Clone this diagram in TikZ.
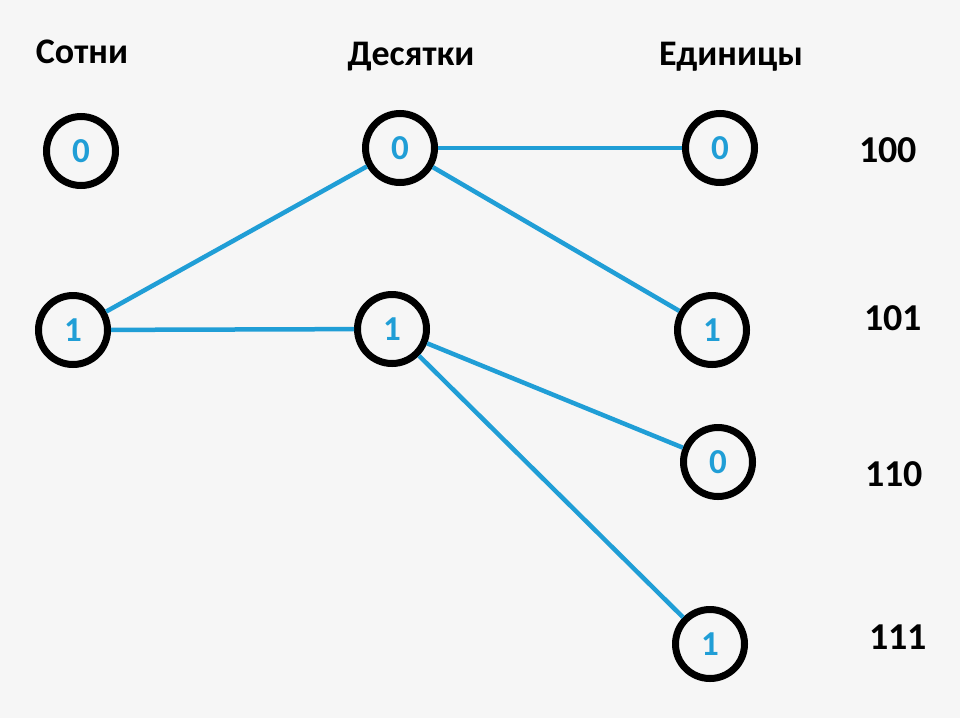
\documentclass[tikz,border=0pt]{standalone}
\usepackage{fontspec}
\setmainfont{Carlito}
\usepackage{tikz}
\definecolor{lineblue}{RGB}{32,158,214}
\definecolor{bggray}{RGB}{246,246,246}

\begin{document}
\begin{tikzpicture}[x=1pt, y=-1pt,
  every node/.style={font=\bfseries},
  digit/.style={draw, circle, line width=7pt, minimum size=69pt, inner sep=0pt, text=lineblue, font=\bfseries\fontsize{35}{35}\selectfont},
  head/.style={font=\bfseries\fontsize{36}{36}\selectfont},
  code/.style={font=\bfseries\fontsize{38}{38}\selectfont},
  edge/.style={draw=lineblue, line width=4.5pt}]
\fill[bggray] (0,0) rectangle (960,718);
\node[head] (H1) at (82,52) {Сотни};
\node[head] (H2) at (411,57) {Десятки};
\node[head] (H3) at (731,57) {Единицы};
\node[digit] (S0) at (81,151) {0};
\node[digit] (S1) at (73,330) {1};
\node[digit] (D0) at (400,148) {0};
\node[digit] (D1) at (392,329) {1};
\node[digit] (E0) at (720,148) {0};
\node[digit] (E1) at (712,330) {1};
\node[digit] (E2) at (718,462) {0};
\node[digit] (E3) at (710,644) {1};
\node[code] (C0) at (888,150) {100};
\node[code] (C1) at (893,318) {101};
\node[code] (C2) at (894,474) {110};
\node[code] (C3) at (898,637) {111};
\draw[edge] (S1) -- (D0);
\draw[edge] (S1) -- (D1);
\draw[edge] (D0) -- (E0);
\draw[edge] (D0) -- (E1);
\draw[edge] (D1) -- (E2);
\draw[edge] (D1) -- (E3);
\end{tikzpicture}
\end{document}
